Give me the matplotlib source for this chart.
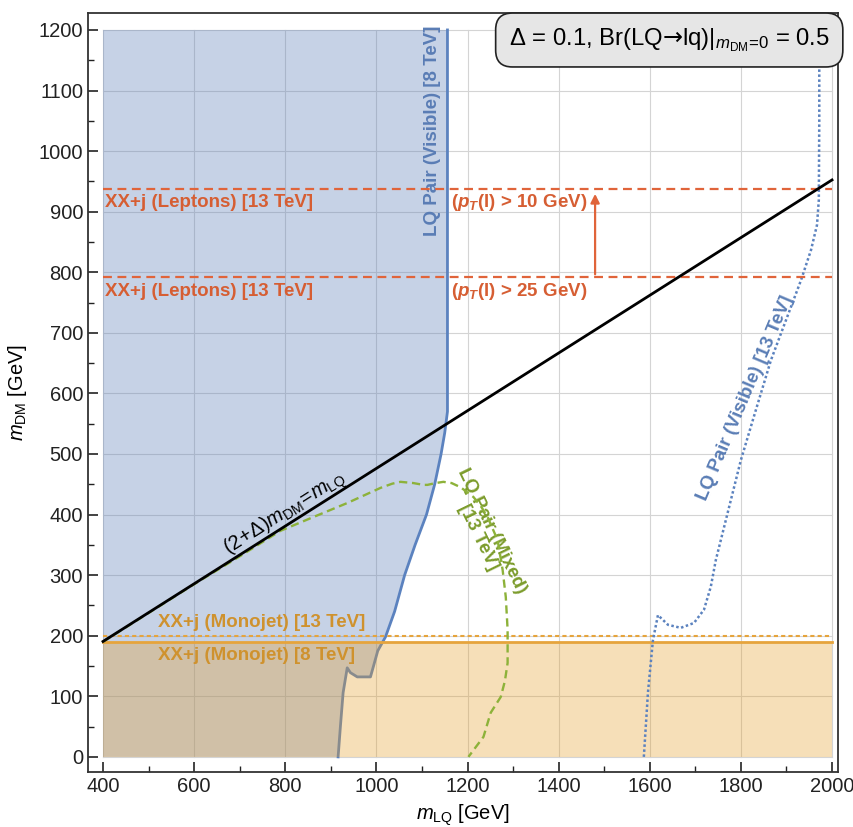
import numpy as np
import matplotlib
matplotlib.use("Agg")
from matplotlib import pyplot as plt
from matplotlib.patches import Polygon

plt.rcParams['font.family'] = ['Liberation Sans', 'DejaVu Sans']
plt.rcParams['mathtext.fontset'] = 'custom'
plt.rcParams['mathtext.rm'] = 'Liberation Sans'
plt.rcParams['mathtext.it'] = 'Liberation Sans:italic'
plt.rcParams['mathtext.bf'] = 'Liberation Sans:bold'
plt.rcParams['mathtext.bfit'] = 'Liberation Sans:italic:bold'
plt.rcParams['mathtext.sf'] = 'DejaVu Sans'

# model parameters
delta = 0.1
lq_range = [400, 2000]

# LQ pair (visible) 8 TeV exclusion boundary
vis8_x = [916, 921, 927, 936, 943, 958, 987, 993, 1003, 1020, 1040, 1062, 1085, 1110,
          1128, 1142, 1150, 1156, 1156]
vis8_y = [0, 50, 106, 147, 139, 132, 132, 148, 175, 198, 240, 300, 350, 400,
          450, 500, 535, 570, 1200]

# LQ pair (visible) 13 TeV contour
vis13_x = [1587, 1596, 1607, 1618, 1640, 1668, 1697, 1719, 1734, 1745, 1767, 1800, 1833,
           1866, 1899, 1932, 1954, 1967, 1971, 1972, 1972]
vis13_y = [0, 106, 193, 234, 218, 213, 221, 243, 281, 325, 391, 490, 573,
           655, 721, 787, 837, 878, 919, 1050, 1200]

# LQ pair (mixed) 13 TeV contour
mix_x = [400, 600, 700, 789, 862, 936, 1009, 1035, 1053, 1081, 1103, 1112, 1130, 1147, 1165,
         1185, 1213, 1230, 1244, 1266, 1277, 1284, 1288, 1288, 1282, 1273, 1251, 1235, 1220, 1202]
mix_y = [190, 285, 331, 373, 396, 419, 444, 451, 454, 452, 449, 449, 452, 454, 452,
         445, 429, 413, 396, 358, 309, 264, 210, 155, 125, 99, 73, 33, 18, 0]

# XX+j limits
mono8 = 190
mono13 = 199
lep25 = 792
lep10 = 938

blue_line = '#5b82bf'
blue_text = '#5a7db5'
orange_line = '#e6a43c'
orange_text = '#cf922e'
red_line = '#e0643a'
red_text = '#d65e33'
green_line = '#8db23a'
green_text = '#7c9c2c'

fig = plt.figure(figsize=(8.54, 8.27), dpi=100)
ax = fig.add_axes([0.1030, 0.0665, 0.8782, 0.9178])

ax.set_xlim(367, 2013)
ax.set_ylim(-25, 1228)

ax.set_xticks(np.arange(400, 2001, 200))
ax.set_xticks(np.arange(400, 2001, 100), minor=True)
ax.set_yticks(np.arange(0, 1201, 100))
ax.set_yticks(np.arange(0, 1201, 50), minor=True)
ax.tick_params(which='both', direction='in', labelsize=14.5, colors='#222222')
ax.tick_params(which='major', length=7, width=1.2)
ax.tick_params(which='minor', length=4, width=1.0)
for s in ax.spines.values():
    s.set_linewidth(1.3)
    s.set_color('#333333')

# grid only across the data region
for gx in np.arange(400, 2001, 200):
    ax.plot([gx, gx], [0, 1200], color='#d4d4d4', lw=0.8, zorder=0)
for gy in np.arange(0, 1201, 100):
    ax.plot([400, 2000], [gy, gy], color='#d4d4d4', lw=0.8, zorder=0)

# 8 TeV visible region
poly_x = [400] + vis8_x + [400]
poly_y = [0] + vis8_y + [1200]
ax.add_patch(Polygon(np.column_stack([poly_x, poly_y]), closed=True,
                     facecolor=(0.37, 0.5, 0.72, 0.35), edgecolor='none', zorder=1))
ax.plot(vis8_x, vis8_y, color=blue_line, lw=2.0, zorder=2)

# monojet 8 TeV region drawn on top so the overlap turns brown
ax.fill_between(lq_range, [0, 0], [mono8, mono8], color=(0.9, 0.62, 0.16, 0.33),
                lw=0, zorder=3)
ax.plot(lq_range, [mono8, mono8], color=orange_line, lw=2.0, zorder=4)
ax.plot(lq_range, [mono13, mono13], color=orange_line, lw=1.5, ls=(0, (2, 1.5)), zorder=4)

# kinematic line
mlq = np.array(lq_range, dtype=float)
ax.plot(mlq, mlq / (2 + delta), color='black', lw=2.0, zorder=5)

ax.plot(mix_x, mix_y, color=green_line, lw=1.7, ls=(0, (3.5, 2)), zorder=4)
ax.plot(vis13_x, vis13_y, color=blue_line, lw=1.8, ls=(0, (1, 1)), zorder=4)

# leptons lines and arrow
ax.plot(lq_range, [lep10, lep10], color=red_line, lw=1.6, ls=(0, (4, 2.5)), zorder=4)
ax.plot(lq_range, [lep25, lep25], color=red_line, lw=1.6, ls=(0, (4, 2.5)), zorder=4)
ax.annotate('', xy=(1480, lep10 - 4), xytext=(1480, lep25),
            arrowprops=dict(arrowstyle='-|>', color=red_line, lw=1.6, mutation_scale=13),
            zorder=5)

bold = dict(fontsize=13.5, fontweight='bold')
ax.text(404, lep10 - 23, 'XX+j (Leptons) [13 TeV]', color=red_text, va='center', **bold)
ax.text(404, lep25 - 23, 'XX+j (Leptons) [13 TeV]', color=red_text, va='center', **bold)
ax.text(1163, lep10 - 23, r'($\mathbfit{p}_{\mathbfit{T}}$(l) > 10 GeV)', color=red_text,
        va='center', **bold)
ax.text(1163, lep25 - 23, r'($\mathbfit{p}_{\mathbfit{T}}$(l) > 25 GeV)', color=red_text,
        va='center', **bold)

ax.text(521, 222, 'XX+j (Monojet) [13 TeV]', color=orange_text, va='center', **bold)
ax.text(521, 167, 'XX+j (Monojet) [8 TeV]', color=orange_text, va='center', **bold)

ax.text(1124, 1033, 'LQ Pair (Visible) [8 TeV]', color=blue_text, rotation=90,
        ha='center', va='center', **bold)
ax.text(1810, 593, 'LQ Pair (Visible) [13 TeV]', color=blue_text, rotation=67,
        ha='center', va='center', **bold)
ax.text(1238, 368, 'LQ Pair (Mixed)\n[13 TeV]', color=green_text, rotation=-64,
        ha='center', va='center', linespacing=0.9, **bold)

ax.text(800, 401, r'$(2\!+\!\Delta)m_{\rm DM}\!=\!m_{\rm LQ}$', rotation=32.4,
        ha='center', va='center', fontsize=14.5, color='black')

ax.text(0.989, 0.9644,
        r'$\Delta$ = 0.1, Br(LQ$\mathsf{→}$lq)$|_{m_{\rm DM}\!=\!0}$ = 0.5',
        transform=ax.transAxes, ha='right', va='center', fontsize=17.2, zorder=10,
        bbox=dict(boxstyle='round,pad=0.55,rounding_size=0.7', facecolor='#e6e6e6',
                  edgecolor='#222222', lw=1.2), clip_on=False)

ax.set_xlabel(r'$m_{\rm LQ}$ [GeV]', fontsize=14.5, labelpad=5)
ax.set_ylabel(r'$m_{\rm DM}$ [GeV]', fontsize=14.5, labelpad=7)

fig.savefig('out.png', dpi=100)
